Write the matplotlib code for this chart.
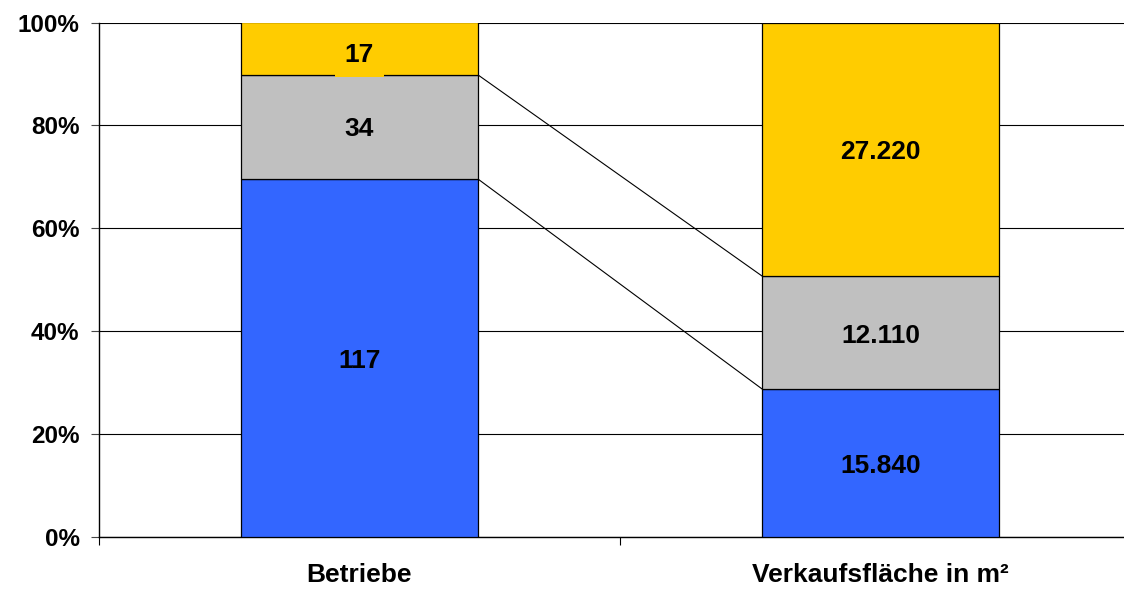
import matplotlib
matplotlib.use("Agg")
import matplotlib.pyplot as plt
import numpy as np

categories = ["Betriebe", "Verkaufsfläche in m²"]
series_colors = ["#3366FF", "#C0C0C0", "#FFCC00"]
# stacked from bottom: blue, gray, yellow
values = [
    [117, 15840],
    [34, 12110],
    [17, 27220],
]
yticks = [0, 20, 40, 60, 80, 100]


def fmt(v):
    return f"{v:,}".replace(",", ".")


def main():
    plt.rcParams["font.family"] = ["Liberation Sans", "DejaVu Sans"]
    fig = plt.figure(figsize=(11.24, 5.89), dpi=100)
    ax = fig.add_axes([99 / 1124, 52 / 589, 1042 / 1124, 514.5 / 589])

    vals = np.array(values, dtype=float)
    pct = vals / vals.sum(axis=0) * 100
    x = np.arange(len(categories)) + 0.5
    width = 0.453
    bottom = np.zeros(len(categories))
    for i, color in enumerate(series_colors):
        ax.bar(x, pct[i], width, bottom=bottom, color=color, edgecolor="black",
               linewidth=0.9, zorder=3)
        for j in range(len(categories)):
            yc = bottom[j] + pct[i][j] / 2
            kw = {}
            dy = -2
            if pct[i][j] < 15:
                # small segment: label box spills over the boundary line
                kw["bbox"] = dict(facecolor=color, edgecolor="none", pad=7)
                dy = -4.5
            ax.annotate(fmt(values[i][j]), (x[j], yc), xytext=(0, dy),
                        textcoords="offset points", ha="center", va="center",
                        fontsize=19, fontweight="bold", zorder=5, **kw)
        bottom = bottom + pct[i]

    # connector lines between series boundaries
    cum = np.cumsum(pct, axis=0)
    for i in range(len(series_colors) - 1):
        ax.plot([x[0] + width / 2, x[1] - width / 2], [cum[i][0], cum[i][1]],
                color="black", linewidth=0.8, zorder=2)

    ax.set_xlim(0, 2)
    ax.set_ylim(0, 100)
    ax.set_yticks(yticks)
    ax.set_yticklabels([f"{t}%" for t in yticks], fontsize=17.5, fontweight="bold")
    ax.set_xticks([0, 1, 2])
    ax.set_xticklabels([])
    ax.set_xticks(x, minor=True)
    ax.set_xticklabels(categories, minor=True, fontsize=19, fontweight="bold")
    ax.tick_params(axis="x", which="minor", length=0, pad=19)
    ax.tick_params(axis="x", which="major", length=6, direction="out", color="black")
    ax.tick_params(axis="y", length=6, direction="out", pad=8, color="#444444")
    ax.yaxis.grid(True, color="black", linewidth=0.8, zorder=0)
    ax.set_axisbelow(True)
    for s in ["top", "right"]:
        ax.spines[s].set_visible(False)
    ax.spines["left"].set_color("black")
    ax.spines["bottom"].set_color("black")
    ax.spines["left"].set_linewidth(1)
    ax.spines["bottom"].set_linewidth(1)

    fig.savefig("out.png", dpi=100)


if __name__ == "__main__":
    main()
